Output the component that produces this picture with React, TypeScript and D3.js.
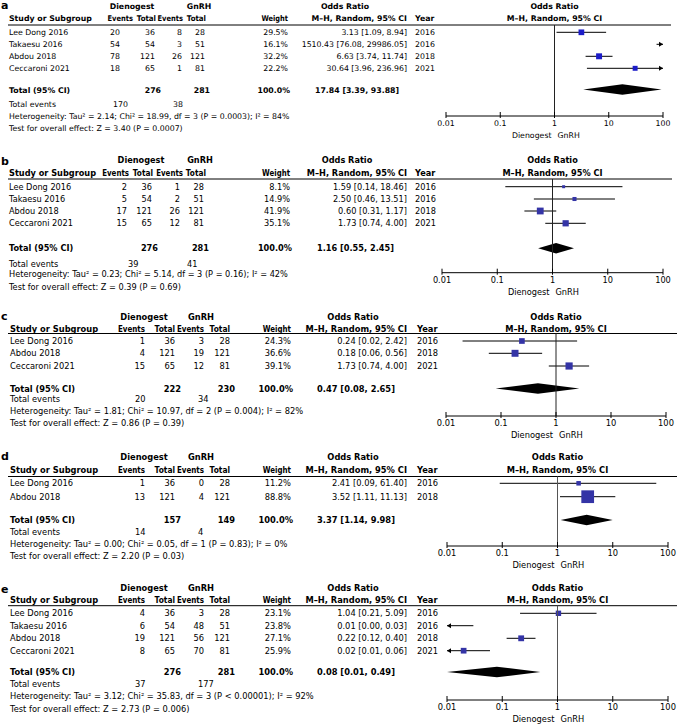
import React from "react";
import * as d3 from "d3";

// ---------- Panel a ----------
const studiesA = ["Lee Dong 2016", "Takaesu 2016", "Abdou 2018", "Ceccaroni 2021"];
const dieEventsA = [20, 54, 78, 18];
const dieTotalA = [36, 54, 121, 65];
const gnrhEventsA = [8, 3, 26, 1];
const gnrhTotalA = [28, 51, 121, 81];
const weightA = [29.5, 16.1, 32.2, 22.2];
const orA = [3.13, 1510.43, 6.63, 30.64];
const loA = [1.09, 76.08, 3.74, 3.96];
const hiA = [8.94, 29986.05, 11.74, 236.96];
const yearA = [2016, 2016, 2018, 2021];
const totalsA = [276, 281, 170, 38]; // dienogest total, GnRH total, dienogest events, GnRH events
const pooledA = [17.84, 3.39, 93.88];
const hetA = "Heterogeneity: Tau\u00b2 = 2.14; Chi\u00b2 = 18.99, df = 3 (P = 0.0003); I\u00b2 = 84%";
const testA = "Test for overall effect: Z = 3.40 (P = 0.0007)";

// ---------- Panel b ----------
const studiesB = ["Lee Dong 2016", "Takaesu 2016", "Abdou 2018", "Ceccaroni 2021"];
const dieEventsB = [2, 5, 17, 15];
const dieTotalB = [36, 54, 121, 65];
const gnrhEventsB = [1, 2, 26, 12];
const gnrhTotalB = [28, 51, 121, 81];
const weightB = [8.1, 14.9, 41.9, 35.1];
const orB = [1.59, 2.5, 0.6, 1.73];
const loB = [0.14, 0.46, 0.31, 0.74];
const hiB = [18.46, 13.51, 1.17, 4.0];
const yearB = [2016, 2016, 2018, 2021];
const totalsB = [276, 281, 39, 41];
const pooledB = [1.16, 0.55, 2.45];
const hetB = "Heterogeneity: Tau\u00b2 = 0.23; Chi\u00b2 = 5.14, df = 3 (P = 0.16); I\u00b2 = 42%";
const testB = "Test for overall effect: Z = 0.39 (P = 0.69)";

// ---------- Panel c ----------
const studiesC = ["Lee Dong 2016", "Abdou 2018", "Ceccaroni 2021"];
const dieEventsC = [1, 4, 15];
const dieTotalC = [36, 121, 65];
const gnrhEventsC = [3, 19, 12];
const gnrhTotalC = [28, 121, 81];
const weightC = [24.3, 36.6, 39.1];
const orC = [0.24, 0.18, 1.73];
const loC = [0.02, 0.06, 0.74];
const hiC = [2.42, 0.56, 4.0];
const yearC = [2016, 2018, 2021];
const totalsC = [222, 230, 20, 34];
const pooledC = [0.47, 0.08, 2.65];
const hetC = "Heterogeneity: Tau\u00b2 = 1.81; Chi\u00b2 = 10.97, df = 2 (P = 0.004); I\u00b2 = 82%";
const testC = "Test for overall effect: Z = 0.86 (P = 0.39)";

// ---------- Panel d ----------
const studiesD = ["Lee Dong 2016", "Abdou 2018"];
const dieEventsD = [1, 13];
const dieTotalD = [36, 121];
const gnrhEventsD = [0, 4];
const gnrhTotalD = [28, 121];
const weightD = [11.2, 88.8];
const orD = [2.41, 3.52];
const loD = [0.09, 1.11];
const hiD = [61.4, 11.13];
const yearD = [2016, 2018];
const totalsD = [157, 149, 14, 4];
const pooledD = [3.37, 1.14, 9.98];
const hetD = "Heterogeneity: Tau\u00b2 = 0.00; Chi\u00b2 = 0.05, df = 1 (P = 0.83); I\u00b2 = 0%";
const testD = "Test for overall effect: Z = 2.20 (P = 0.03)";

// ---------- Panel e ----------
const studiesE = ["Lee Dong 2016", "Takaesu 2016", "Abdou 2018", "Ceccaroni 2021"];
const dieEventsE = [4, 6, 19, 8];
const dieTotalE = [36, 54, 121, 65];
const gnrhEventsE = [3, 48, 56, 70];
const gnrhTotalE = [28, 51, 121, 81];
const weightE = [23.1, 23.8, 27.1, 25.9];
const orE = [1.04, 0.01, 0.22, 0.02];
const loE = [0.21, 0.0, 0.12, 0.01];
const hiE = [5.09, 0.03, 0.4, 0.06];
const yearE = [2016, 2016, 2018, 2021];
const totalsE = [276, 281, 37, 177];
const pooledE = [0.08, 0.01, 0.49];
const hetE = "Heterogeneity: Tau\u00b2 = 3.12; Chi\u00b2 = 35.83, df = 3 (P < 0.00001); I\u00b2 = 92%";
const testE = "Test for overall effect: Z = 2.73 (P = 0.006)";

// ---------- Axis ----------
const tickValues = [0.01, 0.1, 1, 10, 100];
const tickLabels = ["0.01", "0.1", "1", "10", "100"];
const groupLabels = ["Dienogest", "GnRH"];

const panelData = [
  { letter: "a", studies: studiesA, dieEvents: dieEventsA, dieTotal: dieTotalA, gnrhEvents: gnrhEventsA, gnrhTotal: gnrhTotalA, weight: weightA, or: orA, lo: loA, hi: hiA, year: yearA, totals: totalsA, pooled: pooledA, het: hetA, test: testA },
  { letter: "b", studies: studiesB, dieEvents: dieEventsB, dieTotal: dieTotalB, gnrhEvents: gnrhEventsB, gnrhTotal: gnrhTotalB, weight: weightB, or: orB, lo: loB, hi: hiB, year: yearB, totals: totalsB, pooled: pooledB, het: hetB, test: testB },
  { letter: "c", studies: studiesC, dieEvents: dieEventsC, dieTotal: dieTotalC, gnrhEvents: gnrhEventsC, gnrhTotal: gnrhTotalC, weight: weightC, or: orC, lo: loC, hi: hiC, year: yearC, totals: totalsC, pooled: pooledC, het: hetC, test: testC },
  { letter: "d", studies: studiesD, dieEvents: dieEventsD, dieTotal: dieTotalD, gnrhEvents: gnrhEventsD, gnrhTotal: gnrhTotalD, weight: weightD, or: orD, lo: loD, hi: hiD, year: yearD, totals: totalsD, pooled: pooledD, het: hetD, test: testD },
  { letter: "e", studies: studiesE, dieEvents: dieEventsE, dieTotal: dieTotalE, gnrhEvents: gnrhEventsE, gnrhTotal: gnrhTotalE, weight: weightE, or: orE, lo: loE, hi: hiE, year: yearE, totals: totalsE, pooled: pooledE, het: hetE, test: testE },
];

// ---------- Layout (positions / styles) ----------
const xCDE = { study: 10, dEv: 145, dTot: 175, gEv: 204, gTot: 230, wt: 291, or: 407, yr: 417, totOR: 317, totEvD: 135, totEvG: 198, dieLbl: 144, gnLbl: 201, orLbl: 353,
  hdEv: 145, hdTot: 175, hgEv: 204, hgTot: 230 };
const layouts = [
  {
    fs: 7.8, sqMax: 10.5, sq: "#1c1cc8", ref: "#222", lineEnd: 671,
    x: { study: 9, dEv: 120, dTot: 155, gEv: 182, gTot: 205, wt: 288, or: 407, yr: 415, totOR: 315, totEvD: 113, totEvG: 173, dieLbl: 132, gnLbl: 199, orLbl: 345,
      hdEv: 133, hdTot: 156, hgEv: 183, hgTot: 206 },
    y: { letter: 9, h1: 9, h2: 21, line: 25, rows: [32.3, 44.3, 56.3, 68.3], total: 89.5, totEv: 106.5, het: 118.5, test: 130.5, axis: 116 },
    plot: [446, 663],
  },
  {
    fs: 8.2, sqMax: 10.5, sq: "#3434a6", ref: "#222", lineEnd: 672,
    x: { study: 9, dEv: 127, dTot: 152, gEv: 180, gTot: 204, wt: 290, or: 407, yr: 415, totOR: 317, totEvD: 128, totEvG: 187, dieLbl: 141, gnLbl: 200, orLbl: 347,
      hdEv: 129, hdTot: 153, hgEv: 183, hgTot: 206 },
    y: { letter: 165, h1: 163, h2: 176, line: 179, rows: [186.7, 199, 211, 223.3], total: 248.3, totEv: 266.5, het: 277, test: 289.5, axis: 272.7 },
    plot: [442, 663],
  },
  {
    fs: 8.3, sqMax: 11.5, sq: "#3434a6", ref: "#222", lineEnd: 677,
    x: xCDE,
    y: { letter: 320, h1: 320, h2: 331.5, line: 333.5, rows: [341, 353.3, 366], total: 388.5, totEv: 402, het: 414, test: 426, axis: 416 },
    plot: [446, 666],
  },
  {
    fs: 8.3, sqMax: 13.5, sq: "#3434a6", ref: "#555", lineEnd: 677,
    x: xCDE,
    y: { letter: 460, h1: 460, h2: 473, line: 476.5, rows: [483.3, 496.7], total: 520, totEv: 535, het: 547, test: 559, axis: 546 },
    plot: [447, 668],
  },
  {
    fs: 8.3, sqMax: 11.2, sq: "#3434a6", ref: "#555", lineEnd: 677,
    x: xCDE,
    y: { letter: 593, h1: 591, h2: 603, line: 605.7, rows: [613.3, 625.7, 638.3, 650.7], total: 672, totEv: 686.5, het: 699, test: 711.5, axis: 700 },
    plot: [447, 668],
  },
];

// DejaVu Sans Bold advance widths (em) of the column headers, used to condense them slightly
const headerEm: Record<string, number> = { Events: 3.798, Total: 2.865, Weight: 3.957 };

const FONT = "'DejaVu Sans', Verdana, sans-serif";
const fmt = (v: number) => v.toFixed(2);

function Panel({ d, L }: { d: any; L: any }) {
  const x = d3.scaleLog().domain([0.01, 100]).range(L.plot).clamp(true);
  const size = d3.scaleSqrt().domain([0, 100]).range([0, L.sqMax]);
  const [lo0, hi0] = x.domain();
  const fs = L.fs;
  const X = L.x;
  const Y = L.y;
  const t = (props: any, s: any) => (
    <text fontFamily={FONT} fontSize={fs} fill="#000" {...props}>{s}</text>
  );
  const b = (props: any, s: any) => t({ fontWeight: "bold", ...props }, s);
  const hdr = (xx: number, s: string) =>
    b({ x: xx - headerEm[s] * fs * 0.86, y: Y.h2, textLength: headerEm[s] * fs * 0.86, lengthAdjust: "spacingAndGlyphs" }, s);
  const pc = (L.plot[0] + L.plot[1]) / 2;
  const x1 = x(1);
  const [pOr, pLo, pHi] = d.pooled;
  const cy = Y.total;
  const dh = 5.3;
  return (
    <g>
      <text x={1} y={Y.letter} fontFamily={FONT} fontWeight="bold" fontSize={11} fill="#000">{d.letter}</text>
      {b({ x: X.dieLbl, y: Y.h1, textAnchor: "middle" }, groupLabels[0])}
      {b({ x: X.gnLbl, y: Y.h1, textAnchor: "middle" }, groupLabels[1])}
      {b({ x: X.orLbl, y: Y.h1, textAnchor: "middle" }, "Odds Ratio")}
      {b({ x: pc, y: Y.h1, textAnchor: "middle" }, "Odds Ratio")}
      {b({ x: X.study, y: Y.h2 }, "Study or Subgroup")}
      {hdr(X.hdEv, "Events")}
      {hdr(X.hdTot, "Total")}
      {hdr(X.hgEv, "Events")}
      {hdr(X.hgTot, "Total")}
      {hdr(X.wt, "Weight")}
      {b({ x: X.or, y: Y.h2, textAnchor: "end" }, "M\u2013H, Random, 95% CI")}
      {b({ x: X.yr, y: Y.h2 }, "Year")}
      {b({ x: pc, y: Y.h2, textAnchor: "middle" }, "M\u2013H, Random, 95% CI")}
      <line x1={8} x2={L.lineEnd} y1={Y.line} y2={Y.line} stroke="#000" strokeWidth={1} />

      {d.studies.map((s: string, i: number) => {
        const yy = Y.rows[i];
        const ty = yy + 2.8;
        const lo = d.lo[i], hi = d.hi[i], est = d.or[i];
        const leftArrow = lo <= lo0;
        const rightArrow = hi >= hi0;
        const xa = x(Math.max(lo, 1e-6));
        const xb = x(hi);
        const showSq = est > lo0 && est < hi0;
        const sz = size(d.weight[i]);
        return (
          <g key={i}>
            {t({ x: X.study, y: ty }, s)}
            {t({ x: X.dEv, y: ty, textAnchor: "end" }, d.dieEvents[i])}
            {t({ x: X.dTot, y: ty, textAnchor: "end" }, d.dieTotal[i])}
            {t({ x: X.gEv, y: ty, textAnchor: "end" }, d.gnrhEvents[i])}
            {t({ x: X.gTot, y: ty, textAnchor: "end" }, d.gnrhTotal[i])}
            {t({ x: X.wt, y: ty, textAnchor: "end" }, d.weight[i].toFixed(1) + "%")}
            {t({ x: X.or, y: ty, textAnchor: "end" }, `${fmt(est)} [${fmt(lo)}, ${fmt(hi)}]`)}
            {t({ x: X.yr, y: ty }, d.year[i])}
            <line x1={xa} x2={xb} y1={yy} y2={yy} stroke="#000" strokeWidth={1} />
            {leftArrow && <path d={`M${xa},${yy}L${xa + 4},${yy - 2.5}L${xa + 4},${yy + 2.5}Z`} fill="#000" />}
            {rightArrow && <path d={`M${xb},${yy}L${xb - 4},${yy - 2.5}L${xb - 4},${yy + 2.5}Z`} fill="#000" />}
            {showSq && <rect x={x(est) - sz / 2} y={yy - sz / 2} width={sz} height={sz} fill={L.sq} />}
          </g>
        );
      })}

      {b({ x: X.study, y: cy + 3 }, "Total (95% CI)")}
      {b({ x: X.dTot + 6, y: cy + 3, textAnchor: "end" }, d.totals[0])}
      {b({ x: X.gTot + 5, y: cy + 3, textAnchor: "end" }, d.totals[1])}
      {b({ x: X.wt + 2, y: cy + 3, textAnchor: "end" }, "100.0%")}
      {b({ x: X.totOR, y: cy + 3 }, `${fmt(pOr)} [${fmt(pLo)}, ${fmt(pHi)}]`)}
      <path d={`M${x(pLo)},${cy}L${x(pOr)},${cy - dh}L${x(pHi)},${cy}L${x(pOr)},${cy + dh}Z`} fill="#000" />

      {t({ x: X.study, y: Y.totEv }, "Total events")}
      {t({ x: X.totEvD, y: Y.totEv }, d.totals[2])}
      {t({ x: X.totEvG, y: Y.totEv }, d.totals[3])}
      {t({ x: X.study, y: Y.het }, d.het)}
      {t({ x: X.study, y: Y.test }, d.test)}

      <line x1={x1} x2={x1} y1={Y.line} y2={Y.axis} stroke={L.ref} strokeWidth={1} />
      <line x1={L.plot[0]} x2={L.plot[1]} y1={Y.axis} y2={Y.axis} stroke="#000" strokeWidth={1} />
      {tickValues.map((v, i) => (
        <g key={"t" + i}>
          <line x1={x(v)} x2={x(v)} y1={Y.axis - 4} y2={Y.axis + 2} stroke="#000" strokeWidth={1} />
          {t({ x: x(v), y: Y.axis + 10, textAnchor: "middle" }, tickLabels[i])}
        </g>
      ))}
      {t({ x: x1 - 3, y: Y.axis + 22, textAnchor: "end" }, groupLabels[0])}
      {t({ x: x1 + 3, y: Y.axis + 22 }, groupLabels[1])}
    </g>
  );
}

export default function App() {
  return (
    <svg width={677} height={724} viewBox="0 0 677 724" style={{ position: "absolute", left: 0, top: 0, background: "#fff" }}>
      <rect width={677} height={724} fill="#fff" />
      {panelData.map((d, i) => (
        <Panel key={i} d={d} L={layouts[i]} />
      ))}
    </svg>
  );
}
